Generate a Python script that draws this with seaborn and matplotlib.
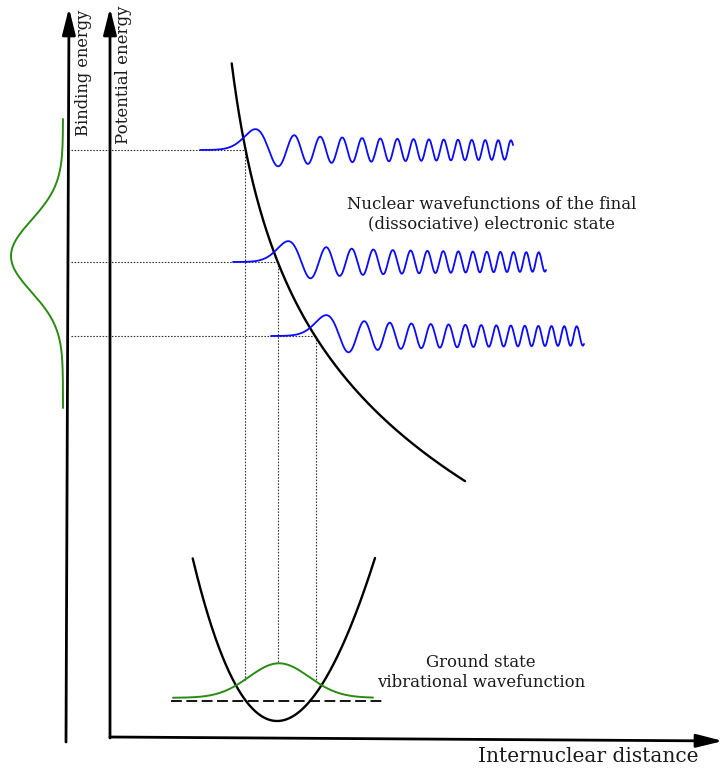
import numpy as np
import pandas as pd
import matplotlib
matplotlib.use("Agg")
import matplotlib.pyplot as plt
import seaborn as sns

# ---------------- data (pixel-space schematic, y grows downward) ----------------
# dissociative (final state) potential curve
diss_x = [231.7, 236.7, 241.7, 245.0, 251.7, 260.0, 268.3, 278.3, 291.7, 305.0,
          311.7, 320.0, 325.0, 345.0, 365.0, 388.3, 415.0, 438.3, 465.0]
diss_y = [61.7, 95.0, 131.7, 151.7, 181.7, 211.7, 235.0, 261.0, 288.3, 311.7,
          331.7, 343.3, 353.3, 380.0, 403.3, 426.7, 446.7, 461.7, 478.3]

# ground-state potential well
well_x = [192.7, 200.0, 210.0, 220.0, 230.0, 240.0, 250.0, 263.3, 276.7, 290.0,
          303.3, 316.7, 330.0, 343.3, 356.7, 366.7, 375.0]
well_y = [559.3, 586.7, 620.0, 650.0, 675.0, 693.3, 706.7, 716.7, 720.0, 716.7,
          708.3, 693.3, 671.7, 643.3, 610.0, 583.3, 558.3]

# final-state nuclear wavefunctions: turning point x, energy level y, amplitude, scale
wave_turn_x = [245.0, 278.0, 316.0]
wave_level_y = [150.0, 262.0, 336.0]
wave_amp = [39.0, 39.0, 39.0]
wave_scale = [10.2, 10.0, 10.0]
wave_left = 45.0
wave_right = 268.0

# ground level (dashed)
ground_level_y = 700.7
ground_level_x = [171.0, 382.0]

# ground state vibrational wavefunction (gaussian)
gs_center, gs_sigma, gs_height, gs_base = 279.0, 30.0, 34.5, 697.8
gs_range = [173.0, 373.0]

# binding energy spectrum (vertical gaussian)
be_center, be_sigma, be_height, be_base = 256.0, 36.0, 52.0, 63.0
be_range = [119.0, 408.0]

# axes (start, tip)
bind_axis = [(66.0, 742.0), (69.0, 8.0)]
pot_axis = [(110.0, 738.0), (110.0, 8.0)]
dist_axis = [(110.0, 737.0), (723.0, 741.0)]
dotted_start_x = 71.0

labels = {
    "bind": "Binding energy",
    "pot": "Potential energy",
    "dist": "Internuclear distance",
    "final": "Nuclear wavefunctions of the final\n(dissociative) electronic state",
    "ground": "Ground state\nvibrational wavefunction",
}

# ---------------- helpers ----------------
def airy_table():
    # integrate Ai'' = t Ai from t=6 backwards (stable for the Ai solution)
    h = -0.002
    t = 6.0
    zeta = 2.0 / 3.0 * t ** 1.5
    y = np.exp(-zeta) / (2 * np.sqrt(np.pi) * t ** 0.25)
    yp = -t ** 0.25 * np.exp(-zeta) / (2 * np.sqrt(np.pi))
    ts, ys = [t], [y]
    while t > -32:
        def f(tt, yy, pp):
            return pp, tt * yy
        k1y, k1p = f(t, y, yp)
        k2y, k2p = f(t + h / 2, y + h / 2 * k1y, yp + h / 2 * k1p)
        k3y, k3p = f(t + h / 2, y + h / 2 * k2y, yp + h / 2 * k2p)
        k4y, k4p = f(t + h, y + h * k3y, yp + h * k3p)
        y += h / 6 * (k1y + 2 * k2y + 2 * k3y + k4y)
        yp += h / 6 * (k1p + 2 * k2p + 2 * k3p + k4p)
        t += h
        ts.append(t)
        ys.append(y)
    return np.array(ts[::-1]), np.array(ys[::-1])

AT, AY = airy_table()

def airy(t):
    return np.interp(t, AT, AY)

# smooth the hand-read curve points with a low-order least-squares fit
dx = np.array(diss_x)
dcoef = np.polyfit(np.log(dx - 200.0), np.array(diss_y), 3)
dxs = np.linspace(dx.min(), dx.max(), 400)
dys = np.polyval(dcoef, np.log(dxs - 200.0))

wx = np.array(well_x)
wcoef = np.polyfit(wx - 280.0, np.array(well_y), 4)
wxs = np.linspace(wx.min(), wx.max(), 400)
wys = np.polyval(wcoef, wxs - 280.0)

# ---------------- figure ----------------
sns.set_theme(style="white")
plt.rcParams["font.family"] = ["DejaVu Serif"]
fig = plt.figure(figsize=(7.23, 7.69), dpi=100)
ax = fig.add_axes([0, 0, 1, 1])
ax.set_xlim(0, 723)
ax.set_ylim(769, 0)
ax.axis("off")

TXT = "#1a1a1a"
BLUE = "#0a0aff"
GREEN = "#2a8a12"
DOT = (0, (1.4, 1.4))

# axes arrows
for (x0, y0), (x1, y1) in (bind_axis, pot_axis, dist_axis):
    ax.annotate("", xy=(x1, y1), xytext=(x0, y0),
                arrowprops=dict(arrowstyle="-|>,head_length=0.8,head_width=0.2",
                                mutation_scale=20, lw=2.0, color="black",
                                shrinkA=0, shrinkB=0), zorder=5)

# dissociative curve
sns.lineplot(x=dxs, y=dys, ax=ax, color="black", lw=1.7, sort=False,
             estimator=None, zorder=4)

# final-state wavefunctions + dotted guides
for xt, yl, amp, sc in zip(wave_turn_x, wave_level_y, wave_amp, wave_scale):
    xw = np.linspace(xt - wave_left, xt + wave_right, 3000)
    yw = yl - amp * airy(-(xw - xt) / sc)
    sns.lineplot(x=xw, y=yw, ax=ax, color=BLUE, lw=1.3, sort=False,
                 estimator=None, zorder=4)
    ax.plot([dotted_start_x, xt], [yl, yl], color="#333333", lw=0.8, ls=DOT, zorder=2)
    y_end = gs_base - gs_height * np.exp(-(xt - gs_center) ** 2 / (2 * gs_sigma ** 2))
    ax.plot([xt, xt], [yl, y_end], color="#333333", lw=0.8, ls=DOT, zorder=2)

# ground-state well
sns.lineplot(x=wxs, y=wys, ax=ax, color="black", lw=1.7, sort=False, estimator=None, zorder=4)

# ground level dashed
ax.plot(ground_level_x, [ground_level_y, ground_level_y], color="black", lw=1.3,
        ls=(0, (6, 2.5)), zorder=3)

# ground state gaussian
xg = np.linspace(gs_range[0], gs_range[1], 400)
yg = gs_base - gs_height * np.exp(-(xg - gs_center) ** 2 / (2 * gs_sigma ** 2))
sns.lineplot(x=xg, y=yg, ax=ax, color=GREEN, lw=1.4, sort=False, estimator=None, zorder=5)

# binding energy spectrum
yb = np.linspace(be_range[0], be_range[1], 500)
xb = be_base - be_height * np.exp(-(yb - be_center) ** 2 / (2 * be_sigma ** 2))
sns.lineplot(x=xb, y=yb, ax=ax, color=GREEN, lw=1.4, sort=False, estimator=None, zorder=5)

# texts
ax.text(83, 10, labels["bind"], rotation=90, ha="center", va="top", fontsize=11.7, color=TXT)
ax.text(124, 5, labels["pot"], rotation=90, ha="center", va="top", fontsize=12, color=TXT)
ax.text(588, 757, labels["dist"], ha="center", va="center", fontsize=14.5, color=TXT)
ax.text(492, 214.5, labels["final"], ha="center", va="center", fontsize=11.9,
        color=TXT, linespacing=1.2)
ax.text(481, 672.5, labels["ground"], ha="center", va="center", fontsize=11.9,
        color=TXT, linespacing=1.2)

fig.savefig("out.png", dpi=100)
